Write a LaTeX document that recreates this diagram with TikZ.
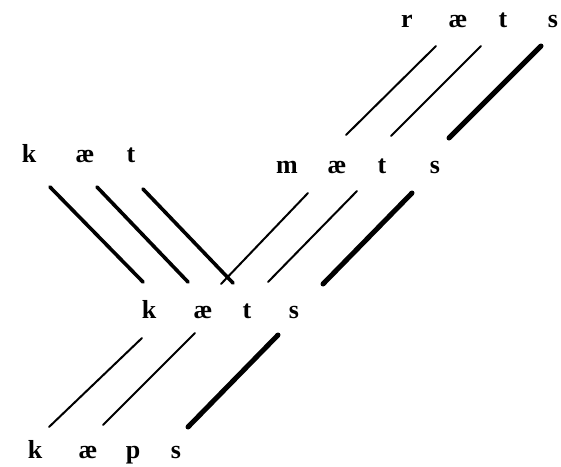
\documentclass[tikz,border=0pt]{standalone}
\usepackage{fontspec}
\setmainfont{Liberation Serif}
\begin{document}
\begin{tikzpicture}[x=1pt,y=-1pt,
  seg/.style={font=\fontsize{26}{26}\selectfont\bfseries, inner sep=0pt, anchor=base},
  thin/.style={line width=2pt, line cap=round},
  mid/.style={line width=3.6pt, line cap=round},
  thick/.style={line width=5pt, line cap=round}]
\useasboundingbox (0,0) rectangle (561,466);
% top word
\node[seg] (r1) at (407,27) {r};
\node[seg] (r2) at (458,27) {æ};
\node[seg] (r3) at (503,27) {t};
\node[seg] (r4) at (553,27) {s};
% kaet
\node[seg] (k1) at (29,162) {k};
\node[seg] (k2) at (85,162) {æ};
\node[seg] (k3) at (131,162) {t};
% maets
\node[seg] (m1) at (287,173) {m};
\node[seg] (m2) at (337,173) {æ};
\node[seg] (m3) at (382,173) {t};
\node[seg] (m4) at (435,173) {s};
% kaets
\node[seg] (c1) at (149,318) {k};
\node[seg] (c2) at (203,318) {æ};
\node[seg] (c3) at (247,318) {t};
\node[seg] (c4) at (294,318) {s};
% kaeps
\node[seg] (p1) at (35,458) {k};
\node[seg] (p2) at (88,458) {æ};
\node[seg] (p3) at (133,458) {p};
\node[seg] (p4) at (176,458) {s};
% line end points
\coordinate (a1) at (436,46); \coordinate (b1) at (346,135);
\coordinate (a2) at (481,46); \coordinate (b2) at (391,136);
\coordinate (a3) at (541,46); \coordinate (b3) at (449,138);
\coordinate (d1) at (50,187); \coordinate (e1) at (143,282);
\coordinate (d2) at (97,187); \coordinate (e2) at (188,282);
\coordinate (d3) at (143,189); \coordinate (e3) at (233,283);
\coordinate (f1) at (308,193); \coordinate (g1) at (221,284);
\coordinate (f2) at (357,191); \coordinate (g2) at (268,282);
\coordinate (f3) at (412,193); \coordinate (g3) at (323,284);
\coordinate (h1) at (142,338); \coordinate (i1) at (49,427);
\coordinate (h2) at (195,333); \coordinate (i2) at (103,425);
\coordinate (h3) at (278,335); \coordinate (i3) at (188,427);
% connectors
\draw[thin] (a1) -- (b1);
\draw[thin] (a2) -- (b2);
\draw[thick] (a3) -- (b3);
\draw[mid] (d1) -- (e1);
\draw[mid] (d2) -- (e2);
\draw[mid] (d3) -- (e3);
\draw[thin] (f1) -- (g1);
\draw[thin] (f2) -- (g2);
\draw[thick] (f3) -- (g3);
\draw[thin] (h1) -- (i1);
\draw[thin] (h2) -- (i2);
\draw[thick] (h3) -- (i3);
\end{tikzpicture}
\end{document}
